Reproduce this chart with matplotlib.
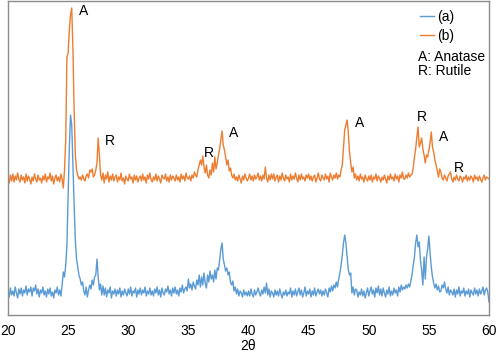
import numpy as np
import matplotlib
matplotlib.use("Agg")
import matplotlib.pyplot as plt

plt.rcParams['font.family'] = ['Liberation Sans', 'DejaVu Sans']

# 2-theta grid, 0.1 degree step from 20 to 60
two_theta = np.round(np.arange(20.0, 60.05, 0.1), 1)

# (a) intensity (a.u.), one row per degree
pattern_a = [
    25, 18, 27, 20, 24, 19, 28, 22, 17, 26,     # 20
    21, 27, 19, 25, 22, 29, 20, 26, 23, 28,     # 21
    19, 27, 24, 30, 21, 26, 18, 25, 22, 28,     # 22
    20, 24, 18, 26, 21, 27, 19, 23, 17, 25,     # 23
    22, 28, 20, 25, 19, 30, 43, 38, 50, 70,     # 24
    118, 168, 200, 190, 150, 110, 75, 56, 48, 40,   # 25
    36, 30, 33, 24, 20, 28, 18, 25, 30, 26,     # 26
    35, 30, 38, 40, 56, 38, 25, 31, 20, 29,     # 27
    20, 27, 18, 25, 22, 28, 17, 24, 21, 26,     # 28
    19, 25, 21, 27, 18, 24, 20, 26, 22, 19,     # 29
    26, 21, 28, 19, 24, 22, 27, 18, 25, 21,     # 30
    27, 20, 25, 22, 28, 19, 24, 21, 27, 20,     # 31
    24, 19, 26, 22, 28, 20, 25, 18, 27, 22,     # 32
    20, 26, 23, 29, 21, 25, 19, 27, 22, 28,     # 33
    21, 25, 19, 27, 23, 30, 22, 26, 28, 24,     # 34
    36, 27, 31, 25, 33, 29, 26, 35, 30, 40,     # 35
    28, 38, 30, 42, 32, 27, 40, 33, 44, 36,     # 36
    40, 33, 45, 36, 47, 45, 55, 66, 72, 56,     # 37
    50, 44, 47, 40, 43, 33, 30, 34, 24, 28,     # 38
    21, 26, 19, 24, 22, 18, 25, 20, 23, 19,     # 39
    24, 19, 26, 21, 18, 25, 20, 23, 27, 22,     # 40
    19, 25, 21, 28, 22, 32, 20, 26, 18, 24,     # 41
    22, 18, 25, 20, 24, 19, 26, 21, 17, 23,     # 42
    20, 25, 19, 23, 21, 27, 18, 24, 20, 26,     # 43
    19, 23, 27, 20, 25, 18, 22, 28, 19, 24,     # 44
    21, 26, 18, 24, 20, 27, 19, 23, 26, 21,     # 45
    25, 19, 24, 20, 26, 22, 18, 27, 23, 29,     # 46
    24, 30, 27, 33, 28, 36, 42, 50, 60, 72,     # 47
    80, 72, 58, 45, 40, 42, 22, 28, 20, 26,     # 48
    25, 18, 23, 20, 26, 19, 24, 17, 22, 27,     # 49
    19, 24, 28, 21, 25, 18, 27, 22, 29, 20,     # 50
    26, 19, 27, 22, 18, 25, 21, 28, 19, 24,     # 51
    20, 27, 22, 25, 19, 28, 23, 30, 25, 28,     # 52
    26, 30, 27, 31, 28, 34, 40, 50, 58, 72,     # 53
    80, 68, 73, 55, 45, 30, 58, 36, 58, 66,     # 54
    79, 62, 48, 38, 32, 27, 31, 25, 29, 23,     # 55
    24, 30, 27, 33, 26, 22, 28, 20, 25, 23,     # 56
    20, 26, 18, 25, 21, 28, 19, 24, 22, 27,     # 57
    19, 24, 21, 26, 18, 25, 22, 20, 27, 21,     # 58
    25, 19, 26, 21, 24, 28, 20, 25, 27, 23,     # 59
    13,                                         # 60
]

# (b) intensity (a.u.), already shifted up
pattern_b = [
    137, 132, 140, 134, 141, 133, 139, 135, 142, 136,   # 20
    133, 140, 135, 138, 132, 141, 134, 139, 136, 131,   # 21
    138, 134, 141, 136, 133, 140, 135, 137, 132, 139,   # 22
    135, 141, 133, 138, 136, 142, 134, 139, 131, 137,   # 23
    140, 134, 138, 133, 141, 136, 127, 145, 175, 258,   # 24
    262, 285, 300, 307, 265, 205, 160, 145, 140, 136,   # 25
    138, 135, 140, 136, 134, 139, 141, 137, 145, 143,   # 26
    146, 138, 140, 145, 152, 177, 160, 140, 135, 142,   # 27
    132, 140, 136, 143, 133, 139, 135, 141, 134, 138,   # 28
    140, 133, 138, 135, 142, 134, 137, 131, 139, 136,   # 29
    134, 141, 136, 138, 132, 140, 135, 139, 133, 137,   # 30
    139, 134, 141, 135, 138, 132, 140, 136, 142, 135,   # 31
    133, 138, 135, 141, 134, 139, 136, 132, 140, 137,   # 32
    136, 141, 134, 138, 133, 140, 135, 139, 137, 134,   # 33
    140, 135, 138, 133, 141, 136, 139, 134, 142, 137,   # 34
    136, 139, 134, 140, 137, 143, 140, 138, 145, 150,   # 35
    155, 150, 159, 148, 142, 150, 140, 137, 145, 140,   # 36
    152, 143, 158, 146, 152, 160, 166, 175, 184, 170,   # 37
    165, 158, 150, 155, 144, 147, 140, 137, 141, 135,   # 38
    138, 134, 140, 136, 132, 139, 135, 141, 137, 134,   # 39
    137, 141, 135, 139, 134, 140, 136, 138, 142, 135,   # 40
    139, 134, 140, 136, 148, 137, 133, 140, 135, 141,   # 41
    136, 141, 134, 138, 140, 133, 139, 135, 142, 137,   # 42
    134, 140, 136, 138, 133, 141, 135, 139, 136, 142,   # 43
    137, 133, 140, 135, 141, 136, 138, 134, 140, 137,   # 44
    141, 135, 139, 134, 138, 140, 133, 137, 142, 136,   # 45
    134, 140, 137, 135, 141, 136, 139, 133, 142, 138,   # 46
    135, 140, 137, 142, 136, 140, 138, 145, 150, 168,   # 47
    185, 190, 195, 182, 163, 152, 143, 148, 137, 141,   # 48
    135, 139, 134, 141, 136, 138, 133, 140, 136, 134,   # 49
    139, 135, 140, 133, 138, 136, 141, 134, 139, 137,   # 50
    133, 138, 135, 140, 136, 132, 139, 135, 141, 136,   # 51
    138, 134, 141, 136, 139, 133, 140, 137, 143, 136,   # 52
    136, 140, 137, 142, 138, 140, 141, 147, 158, 166,   # 53
    178, 188, 168, 172, 177, 166, 160, 152, 160, 158,   # 54
    165, 172, 183, 168, 163, 155, 150, 144, 138, 146,   # 55
    143, 137, 135, 140, 137, 134, 139, 141, 143, 136,   # 56
    133, 138, 135, 140, 136, 134, 139, 137, 133, 138,   # 57
    136, 140, 134, 138, 135, 139, 137, 133, 140, 136,   # 58
    138, 134, 139, 136, 133, 137, 140, 135, 138, 137,   # 59
    136,                                                # 60
]

# phase labels: (text, 2theta, intensity)
peak_labels = [
    ("A", 26.25, 304), ("R", 28.5, 174),
    ("R", 36.67, 162), ("A", 38.72, 182),
    ("A", 49.25, 192), ("R", 54.39, 198),
    ("A", 56.19, 178), ("R", 57.53, 147),
]

blue = "#5B9BD5"
orange = "#ED7D31"

fig = plt.figure(figsize=(4.98, 3.56), dpi=100)
ax = fig.add_axes([8 / 498, 41 / 356, 481 / 498, 314 / 356])

ax.plot(two_theta, pattern_a, color=blue, lw=1.0, label="(a)")
ax.plot(two_theta, pattern_b, color=orange, lw=1.0, label="(b)")

for txt, x, y in peak_labels:
    ax.text(x, y, txt, ha="center", va="center", fontsize=10)

ax.set_xlim(20, 60)
ax.set_ylim(0, 314)
ax.set_xticks(np.arange(20, 61, 5))
ax.set_yticks([])
ax.tick_params(axis="x", length=0, pad=6.5, labelsize=10)
ax.set_xlabel("2θ", fontsize=10, labelpad=1)
for s in ax.spines.values():
    s.set_color("#8c8c8c")
    s.set_linewidth(1.0)

ax.legend(loc="upper left", bbox_to_anchor=(0.845, 0.99), frameon=False,
          fontsize=10, handlelength=1.0, handletextpad=0.2, labelspacing=0.35,
          borderaxespad=0)
ax.text(0.853, 0.822, "A: Anatase", transform=ax.transAxes, fontsize=10,
        ha="left", va="center")
ax.text(0.853, 0.777, "R: Rutile", transform=ax.transAxes, fontsize=10,
        ha="left", va="center")

fig.savefig("out.png", dpi=100)
